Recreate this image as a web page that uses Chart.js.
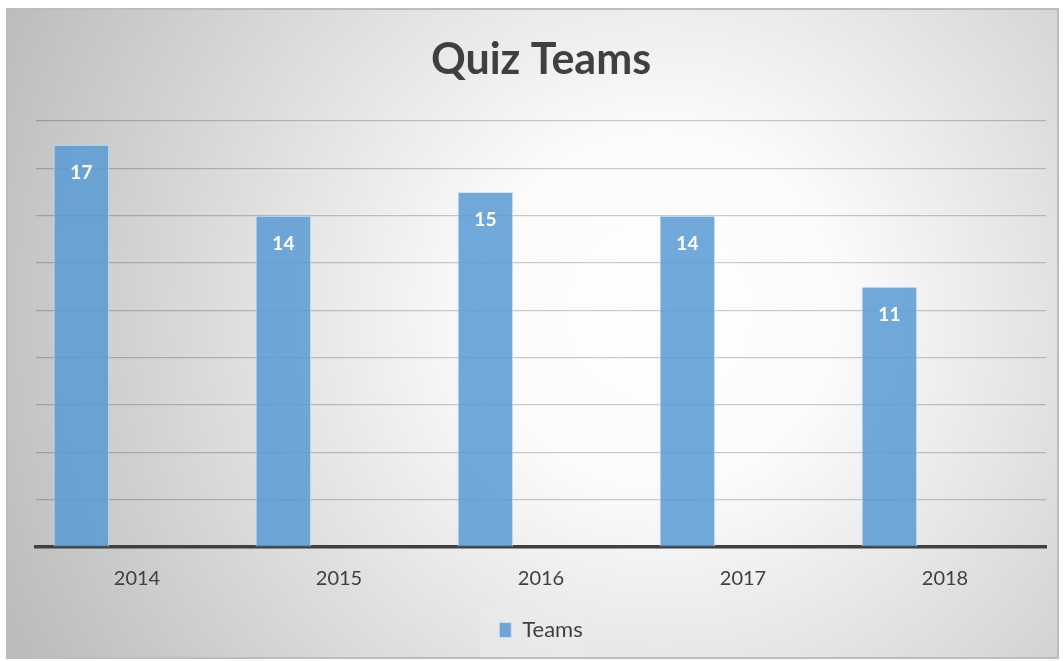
<!DOCTYPE html>
<html>
<head>
<meta charset="utf-8">
<script src="https://cdn.jsdelivr.net/npm/chart.js@4"></script>
<style>
  html, body { margin: 0; padding: 0; background: #fff; }
  #wrap { width: 1063px; height: 661px; }
</style>
</head>
<body>
<div id="wrap"><canvas id="quiz"></canvas></div>
<script>
// data
const years = ['2014', '2015', '2016', '2017', '2018'];
const teams = [17, 14, 15, 14, 11];
// Excel sheet had two more (empty) series, which push the bars left in each slot
const series2 = [null, null, null, null, null];
const series3 = [null, null, null, null, null];
const yMax = 18;
const yStep = 2;

const FONT = 'Lato, "Open Sans", sans-serif';

// gray frame + radial shade + legend panel
const backdrop = {
    id: 'backdrop',
    beforeDraw(chart) {
        const ctx = chart.ctx;
        ctx.save();
        const g = ctx.createRadialGradient(660, 310, 0, 660, 310, 720);
        g.addColorStop(0, '#ffffff');
        g.addColorStop(0.25, '#fbfbfb');
        g.addColorStop(1, '#bcbcbc');
        ctx.fillStyle = g;
        ctx.fillRect(7, 9, 1051, 649);
        ctx.strokeStyle = '#bdbdbd';
        ctx.lineWidth = 2;
        ctx.strokeRect(7, 9, 1051, 649);

        const hb = chart.legend && chart.legend.legendHitBoxes && chart.legend.legendHitBoxes[0];
        if (hb) {
            ctx.fillStyle = 'rgba(235,235,235,0.55)';
            ctx.fillRect(hb.left - 19, 606, hb.width + 22, 51);
        }
        ctx.restore();
    }
};

// white value labels inside top of each bar
const barValues = {
    id: 'barValues',
    afterDatasetsDraw(chart) {
        const ctx = chart.ctx;
        const meta = chart.getDatasetMeta(0);
        ctx.save();
        ctx.fillStyle = '#ffffff';
        ctx.font = 'bold 19px ' + FONT;
        ctx.textAlign = 'center';
        ctx.textBaseline = 'middle';
        meta.data.forEach((bar, i) => {
            ctx.fillText(teams[i], bar.x, bar.y + 28);
        });
        ctx.restore();
    }
};

new Chart(document.getElementById('quiz').getContext('2d'), {
    type: 'bar',
    data: {
        labels: years,
        datasets: [
            {
                label: 'Teams',
                data: teams,
                backgroundColor: 'rgba(91, 155, 213, 0.86)',
                borderColor: 'rgba(205, 225, 245, 0.9)',
                borderWidth: 1,
                categoryPercentage: 0.826,
                barPercentage: 1
            },
            { label: 'Series2', data: series2, categoryPercentage: 0.826, barPercentage: 1 },
            { label: 'Series3', data: series3, categoryPercentage: 0.826, barPercentage: 1 }
        ]
    },
    options: {
        responsive: true,
        maintainAspectRatio: false,
        animation: false,
        layout: { padding: { top: 10, left: 36, right: 17, bottom: 10 } },
        plugins: {
            tooltip: { enabled: false },
            title: {
                display: true,
                text: 'Quiz Teams',
                color: '#404040',
                font: { family: FONT, size: 43, weight: 'bold', lineHeight: 1.2 },
                padding: { top: 24, bottom: 35.4 }
            },
            legend: {
                position: 'bottom',
                labels: {
                    filter: (item) => item.datasetIndex === 0,
                    color: '#404040',
                    font: { family: FONT, size: 22 },
                    boxWidth: 12,
                    boxHeight: 15,
                    padding: 9
                }
            }
        },
        scales: {
            x: {
                grid: { display: false, drawTicks: false },
                border: { display: true, color: '#404040', width: 3.5 },
                ticks: {
                    color: '#404040',
                    font: { family: FONT, size: 20 },
                    padding: 20,
                    maxRotation: 0
                },
                afterFit(scale) { scale.height = 63; }
            },
            y: {
                min: 0,
                max: yMax,
                ticks: { display: false, stepSize: yStep },
                grid: { color: 'rgba(0,0,0,0.2)', lineWidth: 1.2, drawTicks: false },
                border: { display: false }
            }
        }
    },
    plugins: [backdrop, barValues]
});
</script>
</body>
</html>
